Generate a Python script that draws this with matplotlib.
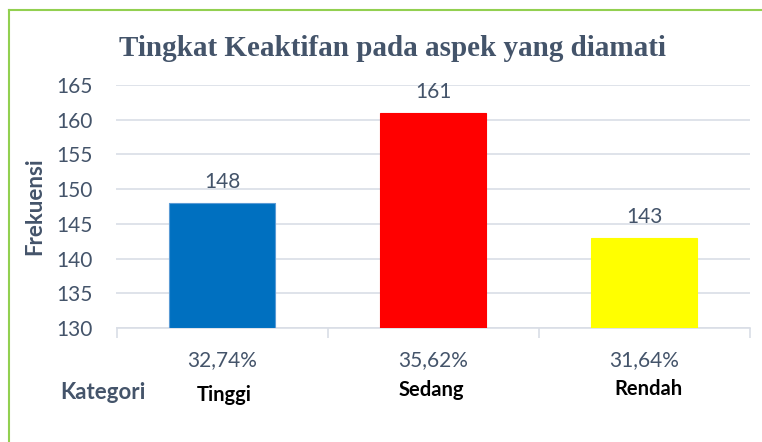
import matplotlib
matplotlib.use("Agg")
import matplotlib.pyplot as plt
import matplotlib.transforms as mtransforms
from matplotlib.lines import Line2D

# DATA
categories = ["Tinggi", "Sedang", "Rendah"]
frekuensi = [148, 161, 143]
persen = ["32,74%", "35,62%", "31,64%"]
bar_colors = ["#0070C0", "#FF0000", "#FFFF00"]
edge_colors = ["#5B9BD5", "#FF0000", "#FFFF00"]
y_ticks = [130, 135, 140, 145, 150, 155, 160, 165]

SLATE = "#44546A"
GRID = "#D9DEE6"

plt.rcParams['font.family'] = ['Lato', 'DejaVu Sans']

W, H = 762, 442
fig = plt.figure(figsize=(W / 100, H / 100), dpi=100)
ax = fig.add_axes([116.5 / W, 1 - 328 / H, 633 / W, 243 / H])

x = range(len(categories))
ax.bar(x, [v - 130 for v in frekuensi], bottom=130, width=0.5,
       color=bar_colors, edgecolor=edge_colors, linewidth=0.8, zorder=3)

ax.set_xlim(-0.5, 2.5)
ax.set_ylim(130, 165)
ax.set_yticks(y_ticks)
ax.set_yticklabels([str(t) for t in y_ticks], fontsize=15, color=SLATE)
ax.tick_params(axis='y', length=0, pad=17)
ax.grid(axis='y', color=GRID, linewidth=1.2, zorder=0)

# category boundary ticks
ax.set_xticks([-0.5, 0.5, 1.5, 2.5])
ax.set_xticklabels([])
ax.tick_params(axis='x', length=7, width=1.2, color=GRID, direction='out')

for s in ['top', 'right', 'left']:
    ax.spines[s].set_visible(False)
ax.spines['bottom'].set_color(GRID)
ax.spines['bottom'].set_linewidth(1.2)

# value labels
for i, v in enumerate(frekuensi):
    ax.text(i, v + 1.6, str(v), ha='center', va='bottom', fontsize=15, color=SLATE)

# percent labels under axis
trans = ax.get_xaxis_transform()
for i, p in enumerate(persen):
    ax.text(i, -0.132, p, transform=trans, ha='center', va='center',
            fontsize=15, color=SLATE)

# category names (baselines slightly uneven, as in source)
cat_base = [401, 396, 395]
cat_dx = [0.01, -0.01, 0.02]
blend = mtransforms.blended_transform_factory(ax.transData, fig.transFigure)
for i, c in enumerate(categories):
    ax.text(i + cat_dx[i], 1 - cat_base[i] / H, c, transform=blend,
            ha='center', va='baseline', fontsize=14.5, fontweight='bold',
            color='black')

fig.text(103 / W, 1 - 399 / H, "Kategori", ha='center', va='baseline',
         fontsize=16, fontweight='bold', color=SLATE)

fig.text(35 / W, 1 - 206 / H, "Frekuensi", ha='center', va='center',
         rotation=90, fontsize=16, fontweight='bold', color=SLATE)

fig.text(392 / W, 1 - 48 / H, "Tingkat Keaktifan pada aspek yang diamati",
         ha='center', va='center', fontsize=21, fontweight='bold',
         color=SLATE, family='Liberation Serif')

# green frame
fig.add_artist(Line2D([9 / W, 9 / W], [0, 1 - 10 / H], color="#92D050",
                      linewidth=1.5, transform=fig.transFigure))
fig.add_artist(Line2D([9 / W, 1], [1 - 10 / H, 1 - 10 / H], color="#92D050",
                      linewidth=1.5, transform=fig.transFigure))

fig.savefig("out.png", dpi=100)
